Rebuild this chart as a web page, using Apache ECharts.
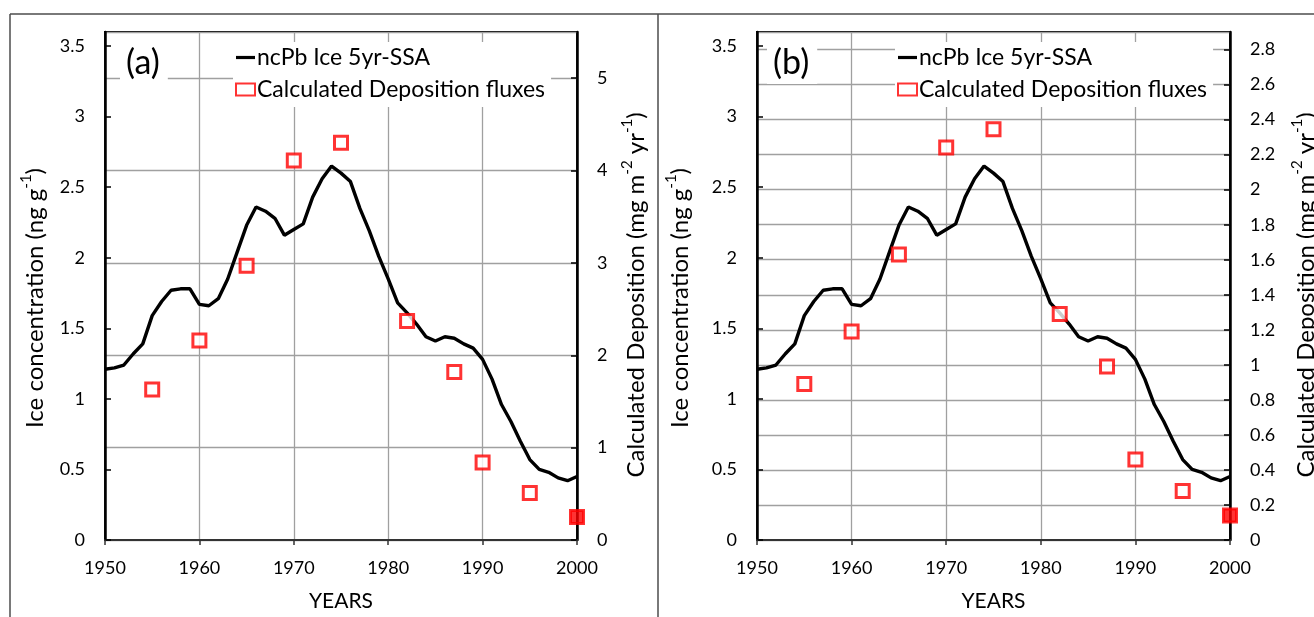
<!DOCTYPE html>
<html>
<head>
<meta charset="utf-8">
<script src="https://cdn.jsdelivr.net/npm/echarts@6.0.0/dist/echarts.min.js"></script>
<style>
html, body { margin: 0; padding: 0; background: #fff; }
#main { width: 1314px; height: 617px; }
</style>
</head>
<body>
<div id="main"></div>
<script>
// ncPb ice record (5yr-SSA), ng/g
var years = [1950, 1951, 1952, 1953, 1954, 1955, 1956, 1957, 1958, 1959,
  1960, 1961, 1962, 1963, 1964, 1965, 1966, 1967, 1968, 1969,
  1970, 1971, 1972, 1973, 1974, 1975, 1976, 1977, 1978, 1979,
  1980, 1981, 1982, 1983, 1984, 1985, 1986, 1987, 1988, 1989,
  1990, 1991, 1992, 1993, 1994, 1995, 1996, 1997, 1998, 1999, 2000];
var iceConc = [1.21, 1.22, 1.24, 1.32, 1.39, 1.59, 1.69, 1.77, 1.78, 1.78,
  1.67, 1.66, 1.71, 1.85, 2.04, 2.23, 2.36, 2.33, 2.28, 2.16,
  2.20, 2.24, 2.43, 2.56, 2.65, 2.60, 2.54, 2.35, 2.19, 2.01,
  1.85, 1.68, 1.61, 1.53, 1.44, 1.41, 1.44, 1.43, 1.39, 1.36,
  1.28, 1.14, 0.96, 0.84, 0.70, 0.57, 0.50, 0.48, 0.44, 0.42, 0.45];

// calculated deposition fluxes, mg m-2 yr-1
var depYears = [1955, 1960, 1965, 1970, 1975, 1982, 1987, 1990, 1995, 2000];
var depA = [1.63, 2.16, 2.97, 4.11, 4.30, 2.37, 1.82, 0.84, 0.51, 0.25];
var depB = [0.89, 1.19, 1.63, 2.24, 2.345, 1.29, 0.99, 0.46, 0.28, 0.14];
var filledYear = 2000; // last point drawn as a filled square

var panelLabels = ['(a)', '(b)'];
var LINE_NAME = 'ncPb Ice 5yr-SSA';
var DEP_NAME = 'Calculated Deposition fluxes';
var FONT = 'Lato, "Open Sans", sans-serif';

var myChart = echarts.init(document.getElementById('main'), null, { renderer: 'canvas' });

var lineData = years.map(function (y, i) { return [y, iceConc[i]]; });
function depData(vals) {
  return depYears.map(function (y, i) {
    if (y === filledYear) return { value: [y, vals[i]], itemStyle: { color: '#ff0000' } };
    return [y, vals[i]];
  });
}

var titleRich = {
  t: { fontFamily: FONT, fontSize: 24, color: '#000', lineHeight: 32 },
  s: { fontFamily: FONT, fontSize: 15, color: '#000', verticalAlign: 'top', lineHeight: 16 }
};
var iceName = '{t|Ice concentration (ng g}{s|-1}{t|)}';
var depName = '{t|Calculated Deposition (mg m}{s|-2}{t| yr}{s|-1}{t|)}';

function xAxis(gi) {
  return {
    gridIndex: gi, type: 'value', min: 1950, max: 2000, interval: 10,
    name: 'YEARS', nameLocation: 'middle', nameGap: 51,
    nameTextStyle: { fontFamily: FONT, fontSize: 21, color: '#000' },
    axisLine: { lineStyle: { color: '#333', width: 2 } },
    axisTick: { show: true, length: 5, lineStyle: { color: '#333', width: 1.5 } },
    axisLabel: { margin: 19, fontFamily: FONT, fontSize: 18, color: '#000',
      formatter: function (v) { return String(v); } },
    splitLine: { show: true, lineStyle: { color: '#a0a0a0', width: 1.3 } }
  };
}
function yAxis(gi, pos, max, step, grid) {
  return {
    gridIndex: gi, type: 'value', position: pos, min: 0, max: max, interval: step,
    axisLine: { show: true, lineStyle: { color: '#000', width: 2.5 } },
    axisTick: { show: true, inside: true, length: 6, lineStyle: { color: '#000', width: 1.5 } },
    axisLabel: { margin: 20, fontFamily: FONT, fontSize: 18, color: '#000', showMaxLabel: false },
    splitLine: { show: grid, lineStyle: { color: '#a0a0a0', width: 1.3 } }
  };
}
function legend(left) {
  return {
    left: left, top: 42, orient: 'vertical', selectedMode: false,
    itemWidth: 19, itemHeight: 12, itemGap: 9,
    padding: [4, 6, 6, 2], backgroundColor: '#fff',
    textStyle: { fontFamily: FONT, fontSize: 23, color: '#000', padding: [0, 0, 0, -3] },
    data: [
      { name: LINE_NAME, icon: 'path://M0 0H19V3.2H0Z' },
      { name: DEP_NAME, icon: 'rect' }
    ]
  };
}
function panelTitle(i, left) {
  return {
    text: panelLabels[i], left: left, top: 44, backgroundColor: '#fff', padding: [2, 8, 4, 6],
    textStyle: { fontFamily: FONT, fontSize: 34, fontWeight: 'normal', color: '#000' }
  };
}
function lineSeries(xi, yi) {
  return {
    name: LINE_NAME, type: 'line', xAxisIndex: xi, yAxisIndex: yi, data: lineData,
    symbol: 'none', lineStyle: { color: '#000', width: 3.4 }, itemStyle: { color: '#000' }, z: 3, silent: true
  };
}
function depSeries(xi, yi, vals) {
  return {
    name: DEP_NAME, type: 'scatter', xAxisIndex: xi, yAxisIndex: yi, data: depData(vals),
    symbol: 'rect', symbolSize: 13,
    itemStyle: { color: '#fff', borderColor: '#ff0000', borderWidth: 3 }, z: 4, silent: true
  };
}
// rotated axis title (reads bottom to top), centred on (x, y)
function axisTitle(text, x, y) {
  return {
    type: 'text', silent: true, x: x, y: y, rotation: Math.PI / 2,
    style: { text: text, rich: titleRich, align: 'center', verticalAlign: 'middle' }
  };
}

var frame = { stroke: '#4d4d4d', lineWidth: 1.5 };

var option = {
  backgroundColor: '#fff',
  animation: false,
  title: [panelTitle(0, 120), panelTitle(1, 767)],
  legend: [legend(233), legend(895)],
  grid: [
    { left: 105, top: 32, width: 472, height: 513, show: true, borderColor: '#000', borderWidth: 2 },
    { left: 757, top: 32, width: 473, height: 513, show: true, borderColor: '#000', borderWidth: 2 }
  ],
  xAxis: [xAxis(0), xAxis(1)],
  yAxis: [
    yAxis(0, 'left', 3.6, 0.5, false), yAxis(0, 'right', 5.5, 1, true),
    yAxis(1, 'left', 3.6, 0.5, false), yAxis(1, 'right', 2.9, 0.2, true)
  ],
  series: [
    lineSeries(0, 0), depSeries(0, 1, depA),
    lineSeries(1, 2), depSeries(1, 3, depB)
  ],
  graphic: [
    { type: 'line', silent: true, shape: { x1: 10, y1: 14, x2: 1314, y2: 14 }, style: frame },
    { type: 'line', silent: true, shape: { x1: 10, y1: 14, x2: 10, y2: 617 }, style: frame },
    { type: 'line', silent: true, shape: { x1: 658, y1: 14, x2: 658, y2: 617 }, style: frame },
    axisTitle(iceName, 35, 298),
    axisTitle(depName, 636, 295),
    axisTitle(iceName, 680, 298),
    axisTitle(depName, 1306, 295)
  ]
};

myChart.setOption(option);
</script>
</body>
</html>
